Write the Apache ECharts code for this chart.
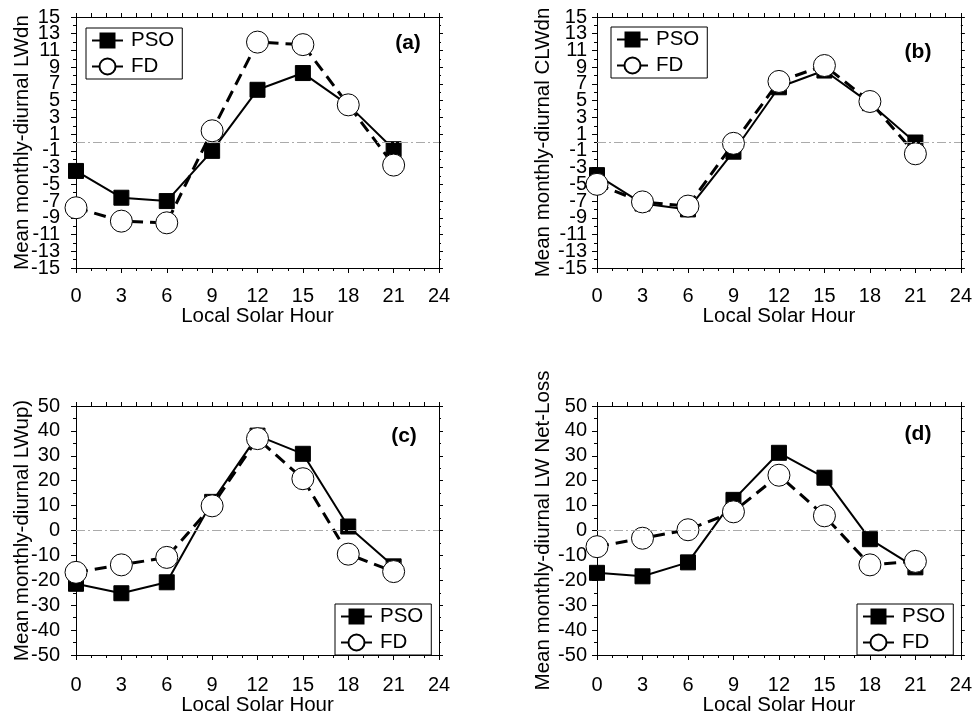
<!DOCTYPE html>
<html>
<head>
<meta charset="utf-8">
<script src="https://cdn.jsdelivr.net/npm/echarts@6/dist/echarts.min.js"></script>
<style>
  html, body { margin: 0; padding: 0; background: #fff; }
  #chart { width: 975px; height: 717px; }
</style>
</head>
<body>
<div id="chart"></div>
<script>
// Local solar hour of each 3-hourly sample
const hours = [0, 3, 6, 9, 12, 15, 18, 21];

// (a) downward longwave
const lwdnPSO = [-3.4, -6.6, -7.0, -1.0, 6.3, 8.3, 4.5, -0.8];
const lwdnFD  = [-7.8, -9.4, -9.6, 1.4, 12.0, 11.7, 4.5, -2.7];
// (b) clear-sky downward longwave
const clwdnPSO = [-3.9, -7.3, -8.0, -1.1, 6.6, 8.6, 4.7, 0.0];
const clwdnFD  = [-5.0, -7.1, -7.6, -0.1, 7.3, 9.2, 4.9, -1.35];
// (c) upward longwave
const lwupPSO = [-21.4, -25.2, -20.8, 11.5, 38.1, 30.8, 1.6, -14.4];
const lwupFD  = [-16.8, -13.8, -10.8, 9.9, 36.9, 20.8, -9.5, -16.5];
// (d) net longwave loss
const netPSO = [-17.0, -18.4, -12.8, 12.3, 31.2, 21.2, -3.5, -14.8];
const netFD  = [-6.5, -3.1, 0.3, 7.5, 22.2, 5.9, -13.8, -12.4];

const seriesNames = ['PSO', 'FD'];
const xTitle = 'Local Solar Hour';
const xTicks = { min: 0, max: 24, interval: 3 };

const panels = [
  { tag: '(a)', yTitle: 'Mean monthly-diurnal LWdn', pso: lwdnPSO, fd: lwdnFD,
    yMin: -15, yMax: 15, yStep: 2,
    grid: { left: 76, top: 17, width: 363, height: 251 }, labelMargin: 16,
    xMargin: 18, xGap: 38,
    tagPos: [408, 43], legend: { left: 86, top: 28 } },
  { tag: '(b)', yTitle: 'Mean monthly-diurnal CLWdn', pso: clwdnPSO, fd: clwdnFD,
    yMin: -15, yMax: 15, yStep: 2,
    grid: { left: 597, top: 17, width: 365, height: 251 }, labelMargin: 10,
    xMargin: 18, xGap: 38,
    tagPos: [918, 52], legend: { left: 611, top: 27 } },
  { tag: '(c)', yTitle: 'Mean monthly-diurnal LWup)', pso: lwupPSO, fd: lwupFD,
    yMin: -50, yMax: 50, yStep: 10,
    grid: { left: 76, top: 406, width: 363, height: 250 }, labelMargin: 16,
    xMargin: 20, xGap: 40,
    tagPos: [404, 436], legend: { left: 335, top: 604 } },
  { tag: '(d)', yTitle: 'Mean monthly-diurnal LW Net-Loss', pso: netPSO, fd: netFD,
    yMin: -50, yMax: 50, yStep: 10,
    grid: { left: 597, top: 406, width: 365, height: 250 }, labelMargin: 10,
    xMargin: 20, xGap: 40,
    tagPos: [918, 434], legend: { left: 857, top: 604 } }
];

const FONT = 'Liberation Sans';
const axisLine = { show: true, onZero: false, lineStyle: { color: '#000', width: 1 } };
const tickFont = { color: '#000', fontSize: 20, fontFamily: FONT };

const grids = [], xAxes = [], yAxes = [], series = [], legends = [], graphics = [];

panels.forEach((p, i) => {
  grids.push(Object.assign({ containLabel: false }, p.grid));

  // bottom axis with labels and title
  xAxes.push({
    gridIndex: i, type: 'value', position: 'bottom',
    min: xTicks.min, max: xTicks.max, interval: xTicks.interval,
    axisLine: axisLine,
    axisTick: { show: true, length: 5, lineStyle: { color: '#000' } },
    minorTick: { show: true, splitNumber: 3, length: 3, lineStyle: { color: '#000' } },
    splitLine: { show: false },
    axisLabel: Object.assign({ margin: p.xMargin, showMinLabel: true, showMaxLabel: true }, tickFont),
    name: xTitle, nameLocation: 'middle', nameGap: p.xGap, nameMoveOverlap: false,
    nameTextStyle: { color: '#000', fontSize: 20.5, fontFamily: FONT }
  });
  // top frame axis: hourly ticks only
  xAxes.push({
    gridIndex: i, type: 'value', position: 'top',
    min: xTicks.min, max: xTicks.max, interval: 1,
    axisLine: axisLine,
    axisTick: { show: true, length: 4, lineStyle: { color: '#000' } },
    splitLine: { show: false },
    axisLabel: { show: false }
  });

  // left axis: ticks, inner labels and title (end labels come from the axis below)
  yAxes.push({
    gridIndex: i, type: 'value', position: 'left',
    min: p.yMin, max: p.yMax, interval: p.yStep,
    axisLine: axisLine,
    axisTick: { show: true, length: 5, lineStyle: { color: '#000' } },
    minorTick: { show: true, splitNumber: 2, length: 3, lineStyle: { color: '#000' } },
    splitLine: { show: false },
    axisLabel: Object.assign({ margin: p.labelMargin, showMinLabel: false, showMaxLabel: false }, tickFont),
    name: p.yTitle, nameLocation: 'middle', nameGap: 43, nameRotate: 90, nameMoveOverlap: false,
    nameTextStyle: { color: '#000', fontSize: 20.5, fontFamily: FONT }
  });
  // right frame axis
  yAxes.push({
    gridIndex: i, type: 'value', position: 'right',
    min: p.yMin, max: p.yMax, interval: p.yStep,
    axisLine: axisLine,
    axisTick: { show: true, length: 4, lineStyle: { color: '#000' } },
    minorTick: { show: true, splitNumber: 2, length: 2, lineStyle: { color: '#000' } },
    splitLine: { show: false },
    axisLabel: { show: false }
  });
  // end labels of the left scale (min and max only)
  yAxes.push({
    gridIndex: i, type: 'value', position: 'left',
    min: p.yMin, max: p.yMax, interval: p.yMax - p.yMin,
    axisLine: { show: false }, axisTick: { show: false }, splitLine: { show: false },
    axisLabel: Object.assign({ margin: p.labelMargin, showMinLabel: true, showMaxLabel: true }, tickFont)
  });

  const xi = i * 2, yi = i * 3;

  // zero reference line
  series.push({
    name: 'zero' + i, type: 'line', xAxisIndex: xi, yAxisIndex: yi,
    data: [], z: 1, silent: true,
    markLine: {
      silent: true, symbol: 'none', label: { show: false },
      lineStyle: { color: '#aaa', width: 1, type: [9, 3, 2, 3] },
      data: [{ yAxis: 0 }]
    }
  });

  series.push({
    name: seriesNames[0], type: 'line', xAxisIndex: xi, yAxisIndex: yi, z: 3,
    data: hours.map((h, k) => [h, p.pso[k]]),
    symbol: 'rect', symbolSize: 15,
    itemStyle: { color: '#000', borderColor: '#000' },
    lineStyle: { color: '#000', width: 2, type: 'solid' },
    emphasis: { disabled: true }, animation: false
  });
  series.push({
    name: seriesNames[1], type: 'line', xAxisIndex: xi, yAxisIndex: yi, z: 4,
    data: hours.map((h, k) => [h, p.fd[k]]),
    symbol: 'circle', symbolSize: 22,
    itemStyle: { color: '#fff', borderColor: '#000', borderWidth: 1 },
    lineStyle: { color: '#000', width: 3, type: [12, 7] },
    emphasis: { disabled: true }, animation: false
  });

  legends.push({
    data: seriesNames, orient: 'vertical',
    left: p.legend.left, top: p.legend.top,
    borderColor: '#000', borderWidth: 1, backgroundColor: '#fff',
    padding: [2, 8, 2, 5], itemGap: 5, itemWidth: 31, itemHeight: 20,
    selectedMode: false,
    textStyle: { color: '#000', fontSize: 20.5, fontFamily: FONT, padding: [0, 0, 0, 3], lineHeight: 20 }
  });

  graphics.push({
    type: 'text', x: p.tagPos[0], y: p.tagPos[1],
    style: { text: p.tag, fill: '#000', font: 'bold 21px "' + FONT + '"',
             textAlign: 'center', textVerticalAlign: 'middle' }
  });
});

const chart = echarts.init(document.getElementById('chart'), null, { renderer: 'canvas' });
chart.setOption({
  animation: false,
  backgroundColor: '#fff',
  textStyle: { fontFamily: FONT },
  grid: grids,
  xAxis: xAxes,
  yAxis: yAxes,
  legend: legends,
  graphic: graphics,
  series: series
});
</script>
</body>
</html>
